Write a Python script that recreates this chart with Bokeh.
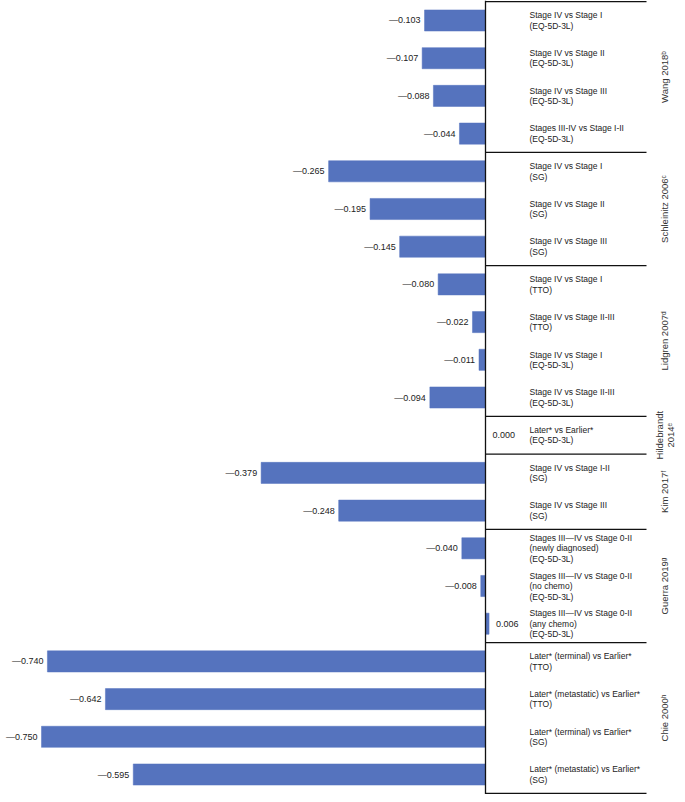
import math
from bokeh.plotting import figure
from bokeh.models import Range1d, ColumnDataSource, Span
from bokeh.core.properties import value
from bokeh.embed import file_html
from bokeh.resources import INLINE

# ---- data ----
studies = ["Wang 2018ᵇ", "Schleinitz 2006ᶜ", "Lidgren 2007ᵈ", "Hildebrandt\n2014ᵉ",
           "Kim 2017ᶠ", "Guerra 2019ᵍ", "Chie 2000ʰ"]
group_sizes = [4, 3, 4, 1, 2, 3, 4]
comparisons = [
    "Stage IV vs Stage I\n(EQ-5D-3L)",
    "Stage IV vs Stage II\n(EQ-5D-3L)",
    "Stage IV vs Stage III\n(EQ-5D-3L)",
    "Stages III-IV vs Stage I-II\n(EQ-5D-3L)",
    "Stage IV vs Stage I\n(SG)",
    "Stage IV vs Stage II\n(SG)",
    "Stage IV vs Stage III\n(SG)",
    "Stage IV vs Stage I\n(TTO)",
    "Stage IV vs Stage II-III\n(TTO)",
    "Stage IV vs Stage I\n(EQ-5D-3L)",
    "Stage IV vs Stage II-III\n(EQ-5D-3L)",
    "Later* vs Earlier*\n(EQ-5D-3L)",
    "Stage IV vs Stage I-II\n(SG)",
    "Stage IV vs Stage III\n(SG)",
    "Stages III—IV vs Stage 0-II\n(newly diagnosed)\n(EQ-5D-3L)",
    "Stages III—IV vs Stage 0-II\n(no chemo)\n(EQ-5D-3L)",
    "Stages III—IV vs Stage 0-II\n(any chemo)\n(EQ-5D-3L)",
    "Later* (terminal) vs Earlier*\n(TTO)",
    "Later* (metastatic) vs Earlier*\n(TTO)",
    "Later* (terminal) vs Earlier*\n(SG)",
    "Later* (metastatic) vs Earlier*\n(SG)",
]
values = [-0.103, -0.107, -0.088, -0.044,
          -0.265, -0.195, -0.145,
          -0.080, -0.022, -0.011, -0.094,
          0.000,
          -0.379, -0.248,
          -0.040, -0.008, 0.006,
          -0.740, -0.642, -0.750, -0.595]

# ---- layout helpers ----
W, H = 677, 794
ZERO_PX = 485          # pixel position of zero line inside the figure
SCALE = 592.0          # pixels per unit
n = len(values)
rows = list(range(n))
FONT = "Liberation Sans"
BAR_COLOR = "#5573BE"

p = figure(width=W, height=H, output_backend="svg", toolbar_location=None,
           x_range=Range1d(-ZERO_PX / SCALE, (W - ZERO_PX) / SCALE),
           y_range=Range1d(n - 0.5 + 0.03, -0.5 - 0.03),
           min_border=0, min_border_left=0, min_border_right=0,
           min_border_top=0, min_border_bottom=0)
p.axis.visible = False
p.grid.visible = False
p.outline_line_color = None
p.background_fill_color = "white"

# bars
p.hbar(y=rows, left=0, right=values, height=0.56, fill_color=BAR_COLOR,
       line_color=BAR_COLOR, line_width=0.5)

# value labels
neg = ColumnDataSource(dict(
    x=[v for v in values if v < 0],
    y=[r for r, v in zip(rows, values) if v < 0],
    t=["—{:.3f}".format(abs(v)) for v in values if v < 0]))
pos = ColumnDataSource(dict(
    x=[v for v in values if v >= 0],
    y=[r for r, v in zip(rows, values) if v >= 0],
    t=["{:.3f}".format(v) for v in values if v >= 0]))
p.text(x="x", y="y", text="t", source=neg, x_offset=-4, text_align="right",
       text_baseline="middle", text_font=value(FONT), text_font_size="9px",
       text_color="#222222")
p.text(x="x", y="y", text="t", source=pos, x_offset=7, text_align="left",
       text_baseline="middle", text_font=value(FONT), text_font_size="9px",
       text_color="#222222")

# zero axis line
p.add_layout(Span(location=0, dimension="height", line_color="#111111", line_width=1.3))

# group separators
bounds = [-0.5]
for g in group_sizes:
    bounds.append(bounds[-1] + g)
sep_end = 161 / SCALE
p.segment(x0=[0] * len(bounds), x1=[sep_end] * len(bounds), y0=bounds, y1=bounds,
          line_color="#111111", line_width=1.3)

# comparison labels
p.text(x=[44 / SCALE] * n, y=rows, text=comparisons, text_align="left",
       text_baseline="middle", text_font=value(FONT), text_font_size="8.5px",
       text_line_height=1.05, text_color="#222222")

# study labels (rotated)
centers = [(bounds[i] + bounds[i + 1]) / 2 for i in range(len(group_sizes))]
p.text(x=[179 / SCALE] * len(studies), y=centers, text=studies, angle=math.pi / 2,
       text_align="center", text_baseline="middle", text_font=value(FONT),
       text_font_size="9.5px", text_line_height=1.0, text_color="#333333")

open("out.html", "w").write(file_html(p, INLINE))
